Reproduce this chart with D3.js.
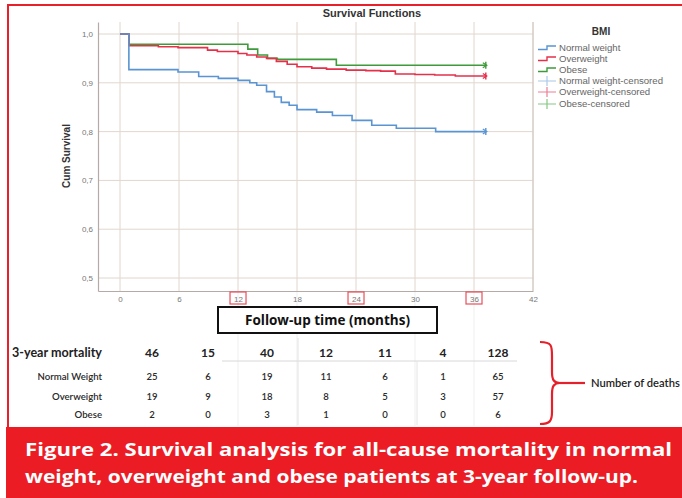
<!DOCTYPE html>
<html><head><meta charset="utf-8">
<script src="https://cdn.jsdelivr.net/npm/d3@7"></script>
<style>html,body{margin:0;padding:0;background:#fff;overflow:hidden}</style>
</head><body>
<svg id="c" width="682" height="498"></svg>
<script>
// ---- data ----
const normalT = [0, 0.9, 5.9, 8.0, 10, 12, 13.2, 13.9, 14.9, 15.7, 16.4, 17.2, 18, 20, 21.6, 23.6, 25.6, 28.1, 32.1, 37.2];
const normalS = [1.0, 0.927, 0.922, 0.913, 0.909, 0.905, 0.900, 0.895, 0.882, 0.871, 0.860, 0.854, 0.845, 0.840, 0.833, 0.823, 0.813, 0.807, 0.800, 0.800];
const overT = [0, 0.9, 3.9, 5.9, 8.9, 9.9, 12, 12.9, 13.9, 14.9, 15.9, 17, 18, 19.5, 21, 23, 25, 26.5, 28, 30, 32, 34.1, 37.2];
const overS = [1.0, 0.976, 0.974, 0.972, 0.967, 0.964, 0.960, 0.957, 0.953, 0.950, 0.944, 0.938, 0.933, 0.930, 0.928, 0.926, 0.925, 0.924, 0.918, 0.917, 0.916, 0.914, 0.914];
const obeseT = [0, 0.9, 13, 14, 15, 16, 22, 37.2];
const obeseS = [1.0, 0.979, 0.969, 0.957, 0.950, 0.948, 0.936, 0.936];
const seriesNames = ["Normal weight", "Overweight", "Obese"];
const censoredNames = ["Normal weight-censored", "Overweight-censored", "Obese-censored"];
const xTicks = [0, 6, 12, 18, 24, 30, 36, 42];
const yTicks = [0.5, 0.6, 0.7, 0.8, 0.9, 1.0];
const boxedTicks = [12, 24, 36];
const tableRows = ["Normal Weight", "Overweight", "Obese"];
const totalRow = [46, 15, 40, 12, 11, 4, 128];
const normalDeaths = [25, 6, 19, 11, 6, 1, 65];
const overDeaths = [19, 9, 18, 8, 5, 3, 57];
const obeseDeaths = [2, 0, 3, 1, 0, 0, 6];
const tableColX = [152, 208, 267, 326, 385, 443, 498];

const colors = ["#5a94d2", "#e5304a", "#3f9a3c"];
const lightColors = ["#a9c8ea", "#ec7f95", "#86c884"];

const svg = d3.select("#c");
const x = d3.scaleLinear().domain([-2.24, 42]).range([98, 533]);
const y = d3.scaleLinear().domain([0.4734, 1.0246]).range([291, 22]);

// faint gridline remnants through the lower area
[12, 18, 30, 36].forEach(t => {
  svg.append("line").attr("x1", x(t)).attr("x2", x(t)).attr("y1", 291).attr("y2", 426)
    .attr("stroke", "#efefef").attr("stroke-width", 1);
});

// gridlines
const grid = svg.append("g");
yTicks.forEach(v => grid.append("line").attr("x1", 98).attr("x2", 533).attr("y1", y(v)).attr("y2", y(v))
  .attr("stroke", "#e2d6cf").attr("stroke-width", 1));
xTicks.forEach(v => grid.append("line").attr("x1", x(v)).attr("x2", x(v)).attr("y1", 22).attr("y2", 291)
  .attr("stroke", "#e2d6cf").attr("stroke-width", 1));

// axes
const xAxis = d3.axisBottom(x).tickValues(xTicks).tickSize(0).tickPadding(5).tickFormat(d3.format("d"));
const yAxis = d3.axisLeft(y).tickValues(yTicks).tickSize(0).tickPadding(5).tickFormat(d => d.toFixed(1).replace(".", ","));
const gx = svg.append("g").attr("transform", "translate(0,291)").call(xAxis);
const gy = svg.append("g").attr("transform", "translate(98,0)").call(yAxis);
[gx, gy].forEach(g => {
  g.select(".domain").attr("stroke", "#b5aaa5").attr("stroke-width", 1.2);
  g.selectAll("text").attr("font-family", "Liberation Sans, Arial, sans-serif").attr("font-size", 8).attr("fill", "#777");
});
svg.append("line").attr("x1", 533).attr("x2", 533).attr("y1", 22).attr("y2", 291).attr("stroke", "#cfc4bf");

// red boxes around 12/24/36
boxedTicks.forEach(t => {
  svg.append("rect").attr("x", x(t) - 8).attr("y", 292).attr("width", 16).attr("height", 12)
    .attr("fill", "none").attr("stroke", "#e8505a").attr("stroke-width", 1.2);
});

// curves
const line = d3.line().x(d => x(d[0])).y(d => y(d[1])).curve(d3.curveStepAfter);
const seriesT = [normalT, overT, obeseT];
const seriesS = [normalS, overS, obeseS];
[2, 1, 0].forEach(i => {
  const pts = seriesT[i].map((t, k) => [t, seriesS[i][k]]);
  svg.append("path").attr("d", line(pts)).attr("fill", "none").attr("stroke", colors[i]).attr("stroke-width", 1.6);
  const last = pts[pts.length - 1];
  svg.append("line").attr("x1", x(last[0])).attr("x2", x(last[0])).attr("y1", y(last[1]) - 3.5).attr("y2", y(last[1]) + 3.5)
    .attr("stroke", colors[i]).attr("stroke-width", 1.4);
  svg.append("path").attr("d", `M${x(last[0]) - 3},${y(last[1]) - 2.5}L${x(last[0]) + 1},${y(last[1])}L${x(last[0]) - 3},${y(last[1]) + 2.5}`)
    .attr("fill", "none").attr("stroke", colors[i]).attr("stroke-width", 1.2);
});

// title + y label
svg.append("text").attr("x", 372).attr("y", 17).attr("text-anchor", "middle")
  .attr("font-family", "Liberation Sans, Arial, sans-serif").attr("font-weight", "bold").attr("font-size", 11).attr("fill", "#333")
  .text("Survival Functions");
svg.append("text").attr("transform", "translate(70,156) rotate(-90)").attr("text-anchor", "middle")
  .attr("font-family", "Liberation Sans, Arial, sans-serif").attr("font-weight", "bold").attr("font-size", 10).attr("fill", "#333")
  .text("Cum Survival");

// legend
svg.append("text").attr("x", 601).attr("y", 35).attr("text-anchor", "middle")
  .attr("font-family", "Liberation Sans, Arial, sans-serif").attr("font-weight", "bold").attr("font-size", 10).attr("fill", "#333").text("BMI");
const legY = [48, 59, 70, 81, 92, 104];
seriesNames.forEach((n, i) => {
  const yy = legY[i];
  svg.append("path").attr("d", `M538,${yy + 1.5}H547V${yy - 2}H556`).attr("fill", "none").attr("stroke", colors[i]).attr("stroke-width", 1.4);
  svg.append("text").attr("x", 559).attr("y", yy + 3).attr("font-family", "Liberation Sans, Arial, sans-serif")
    .attr("font-size", 9.6).attr("fill", "#666").text(n);
});
censoredNames.forEach((n, i) => {
  const yy = legY[i + 3];
  svg.append("path").attr("d", `M538,${yy}H556M547,${yy - 5}V${yy + 5}`).attr("fill", "none").attr("stroke", lightColors[i]).attr("stroke-width", 1.2);
  svg.append("text").attr("x", 559).attr("y", yy + 3).attr("font-family", "Liberation Sans, Arial, sans-serif")
    .attr("font-size", 9.6).attr("fill", "#666").text(n);
});

// x label box
svg.append("rect").attr("x", 218).attr("y", 307).attr("width", 219).attr("height", 26)
  .attr("fill", "#fff").attr("stroke", "#111").attr("stroke-width", 2);
svg.append("text").attr("x", 327.5).attr("y", 325).attr("text-anchor", "middle")
  .attr("font-family", "Open Sans, sans-serif").attr("font-weight", "bold").attr("font-size", 13.5).attr("fill", "#111")
  .text("Follow-up time (months)");

// table
const tf = "Lato, Open Sans, sans-serif";
svg.append("line").attr("x1", 222).attr("x2", 517).attr("y1", 361).attr("y2", 361).attr("stroke", "#d8d8d8");
svg.append("line").attr("x1", 298).attr("x2", 298).attr("y1", 338).attr("y2", 425).attr("stroke", "#e4e4e4");
svg.append("line").attr("x1", 417).attr("x2", 417).attr("y1", 361).attr("y2", 425).attr("stroke", "#e4e4e4");
svg.append("text").attr("x", 12).attr("y", 357).attr("font-family", tf).attr("font-weight", "bold").attr("font-size", 13)
  .attr("textLength", 90).attr("lengthAdjust", "spacingAndGlyphs").attr("fill", "#222").text("3-year mortality");
totalRow.forEach((v, j) => svg.append("text").attr("x", tableColX[j]).attr("y", 357).attr("text-anchor", "middle")
  .attr("font-family", tf).attr("font-weight", "bold").attr("font-size", 12).attr("fill", "#222").text(v));
const rowsData = [normalDeaths, overDeaths, obeseDeaths];
const rowY = [380, 400, 418];
tableRows.forEach((r, i) => {
  svg.append("text").attr("x", 102).attr("y", rowY[i]).attr("text-anchor", "end").attr("font-family", tf)
    .attr("font-weight", 600).attr("font-size", 9.6).attr("fill", "#2a2a2a").text(r);
  rowsData[i].forEach((v, j) => svg.append("text").attr("x", tableColX[j]).attr("y", rowY[i]).attr("text-anchor", "middle")
    .attr("font-family", tf).attr("font-weight", 600).attr("font-size", 9.6).attr("fill", "#2a2a2a").text(v));
});

// brace
svg.append("path").attr("d", "M540,342 C552,342 552,346 552,356 L552,372 C552,380 554,383 560,383 C554,383 552,386 552,394 L552,412 C552,421 550,424 540,424")
  .attr("fill", "none").attr("stroke", "#e5202a").attr("stroke-width", 2.2);
svg.append("line").attr("x1", 560).attr("x2", 585).attr("y1", 383).attr("y2", 383).attr("stroke", "#e5202a").attr("stroke-width", 2.2);
svg.append("text").attr("x", 591).attr("y", 387).attr("font-family", tf).attr("font-weight", 600).attr("font-size", 11.2)
  .attr("fill", "#222").text("Number of deaths");

// frame
svg.append("path").attr("d", "M8,428V5H690").attr("fill", "none").attr("stroke", "#e8202a").attr("stroke-width", 2);
svg.append("rect").attr("x", 6).attr("y", 427).attr("width", 680).attr("height", 75).attr("fill", "#ec1c24");
svg.append("text").attr("x", 25).attr("y", 456).attr("font-family", "Open Sans, sans-serif").attr("font-weight", "bold")
  .attr("font-size", 18).attr("fill", "#fff").attr("textLength", 647).attr("lengthAdjust", "spacingAndGlyphs")
  .text("Figure 2. Survival analysis for all-cause mortality in normal");
svg.append("text").attr("x", 25).attr("y", 483).attr("font-family", "Open Sans, sans-serif").attr("font-weight", "bold")
  .attr("font-size", 18).attr("fill", "#fff").attr("textLength", 613).attr("lengthAdjust", "spacingAndGlyphs")
  .text("weight, overweight and obese patients at 3-year follow-up.");
</script>
</body></html>
